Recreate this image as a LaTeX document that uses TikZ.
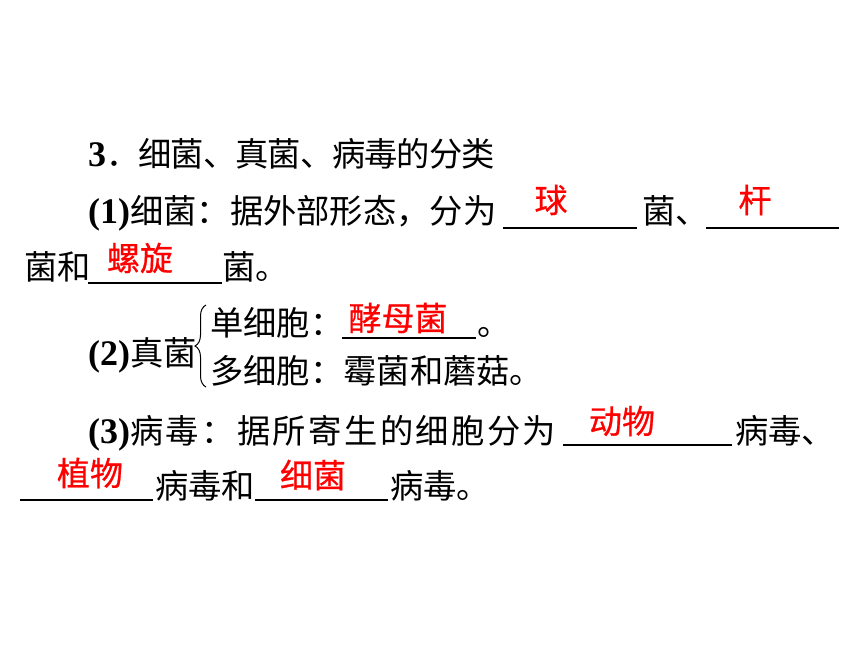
\documentclass[tikz,border=0pt]{standalone}
\usepackage{fontspec}
\setmainfont{Noto Sans CJK SC}
\newfontfamily\tnr{Liberation Serif}
\usetikzlibrary{decorations.pathreplacing}
\newcommand\numb[1]{{\fontsize{36}{40}\selectfont\tnr\bfseries #1}}

\begin{document}
\begin{tikzpicture}[x=1pt, y=-1pt,
        txt/.style={anchor=base west, inner sep=0pt, font=\fontsize{33.3}{40}\selectfont},
        answer/.style={anchor=center, inner sep=0pt, text=red, font=\fontsize{33}{40}\selectfont\addfontfeature{FakeBold=0.6}},
        blank/.style={line width=1.6pt}]
        \useasboundingbox (0,0) rectangle (860,645);

	% heading and bacteria
        \node[txt] (head) at (88,166) {\numb{3}{\addfontfeature{LetterSpace=-3}．细菌、真菌、病毒的分类}};
        \node[txt] (bact) at (88,223) {\numb{(1)}细菌：据外部形态，分为};
        \node[txt] (bactA) at (642,223) {菌、};
        \node[txt] (bactB) at (24,279) {菌和};
        \node[txt] (bactC) at (222,279) {菌。};
        \coordinate (u1a) at (503,228); \coordinate (u1b) at (637,228);
        \coordinate (u2a) at (706,228); \coordinate (u2b) at (839,228);
        \coordinate (u3a) at (88,283);  \coordinate (u3b) at (222,283);
        \draw[blank] (u1a) -- (u1b) (u2a) -- (u2b) (u3a) -- (u3b);
        \node[answer] (qiu) at (551,200) {球};
        \node[answer] (gan) at (755,200) {杆};
        \node[answer] (luoxuan) at (140,258) {螺旋};

	% fungi
        \node[txt] (fungi) at (88,365) {\numb{(2)}真菌};
        \coordinate (brTop) at (206,305); \coordinate (brBot) at (206,387);
        \draw[line width=1pt, decorate, decoration={brace, amplitude=11pt}] (brBot) -- (brTop);
        \node[txt] (single) at (210,335) {单细胞：};
        \node[txt] (singleEnd) at (477,335) {。};
        \node[txt] (multi) at (210,383) {多细胞：霉菌和蘑菇。};
        \coordinate (u4a) at (342,338); \coordinate (u4b) at (476,338);
        \draw[blank] (u4a) -- (u4b);
        \node[answer] (yeast) at (398,318) {酵母菌};

	% viruses
        \node[txt] (virus) at (88,443) {\numb{(3)}{\addfontfeature{LetterSpace=7.2}病毒：据所寄生的细胞分为}};
        \node[txt] (virusA) at (735,443) {病毒、};
        \node[txt] (virusB) at (155,498) {病毒和};
        \node[txt] (virusC) at (390,498) {病毒。};
        \coordinate (u5a) at (563,445); \coordinate (u5b) at (732,445);
        \coordinate (u6a) at (20,500);  \coordinate (u6b) at (153,500);
        \coordinate (u7a) at (255,500); \coordinate (u7b) at (388,500);
        \draw[blank] (u5a) -- (u5b) (u6a) -- (u6b) (u7a) -- (u7b);
        \node[answer] (animal) at (622,421) {动物};
        \node[answer] (plant) at (90,473) {植物};
        \node[answer] (bacteria) at (313,475) {细菌};
\end{tikzpicture}
\end{document}
